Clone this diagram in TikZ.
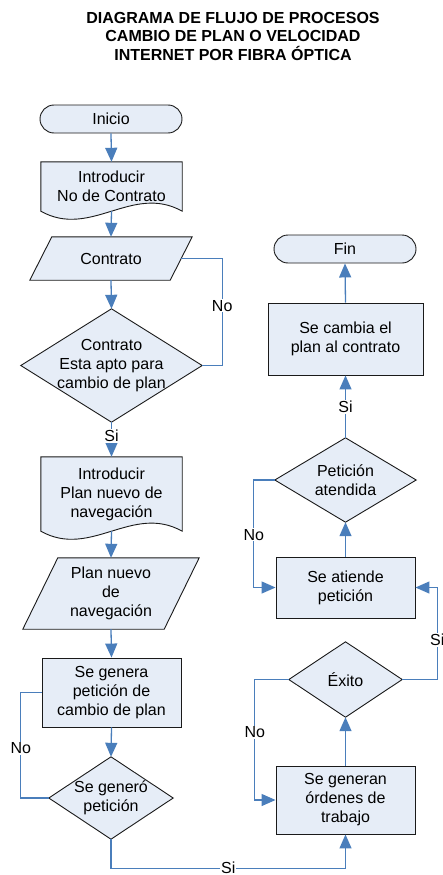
\documentclass[tikz,border=0pt]{standalone}
\usepackage{fontspec}
\setmainfont{Liberation Sans}
\usetikzlibrary{
    arrows.meta,
    backgrounds
}
\definecolor{shapefill}{HTML}{E6EDF7}
\definecolor{shapeborder}{HTML}{1A1A1A}
\definecolor{flowblue}{HTML}{4A7EBB}
\newcommand{\flowfont}{\fontsize{16}{19}\selectfont}
\tikzset{
    terminal/.style={
        rectangle, draw=shapeborder, fill=shapefill, line width=0.9pt,
        rounded corners=14pt, minimum width=142pt, minimum height=28pt,
        inner sep=0pt, font=\flowfont
    },
    process/.style={
        rectangle, draw=shapeborder, fill=shapefill, line width=0.9pt,
        minimum width=139pt, inner sep=0pt, align=center,
        font=\flowfont
    },
    shape area/.style={
        rectangle, inner sep=0pt, align=center, font=\flowfont
    },
    outline/.style={
        draw=shapeborder, fill=shapefill, line width=0.9pt
    },
    link/.style={
        line width=1.3pt, color=flowblue
    },
    flow/.style={
        link, -{Triangle[length=14pt, width=12pt]}
    },
    flow label/.style={
        fill=white, inner sep=1pt, text=black, font=\flowfont
    },
}

\begin{document}
\begin{tikzpicture}[x=1pt, y=-1pt]
    \useasboundingbox (0,0) rectangle (442,875);

    \node[align=center, font=\fontsize{16}{18.5}\selectfont\bfseries] (title) at (233,36) {
        DIAGRAMA DE FLUJO DE PROCESOS\\
        CAMBIO DE PLAN O VELOCIDAD\\
        INTERNET POR FIBRA ÓPTICA
    };

    % left column
    \node[terminal] (inicio) at (111,119) {Inicio};
    \node[shape area, minimum width=141pt, minimum height=49pt] (doc1) at (111.5,186.5) {Introducir\\No de Contrato};
    \node[shape area, minimum width=162pt, minimum height=43pt] (pa1) at (111,258.5) {Contrato};
    \node[shape area, minimum width=181pt, minimum height=113pt] (d1) at (111.5,365.5) {Contrato\\Esta apto para\\cambio de plan};
    \node[shape area, minimum width=141pt, minimum height=74pt] (doc2) at (111.5,494) {Introducir\\Plan nuevo de\\navegación};
    \node[shape area, minimum width=176pt, minimum height=71pt] (pa2) at (111,593.5) {Plan nuevo\\de\\navegación};
    \node[process, minimum height=69pt] (genera) at (111.5,692.5) {Se genera\\petición de\\cambio de plan};
    \node[shape area, minimum width=124pt, minimum height=82pt] (d2) at (111,798) {Se generó\\petición};

    % right column
    \node[process, minimum height=68pt] (ordenes) at (345.5,800) {Se generan\\órdenes de\\trabajo};
    \node[shape area, minimum width=113pt, minimum height=75pt] (exito) at (345.5,679.5) {Éxito};
    \node[process, minimum height=61pt] (atiende) at (345.5,587.5) {Se atiende\\petición};
    \node[shape area, minimum width=141pt, minimum height=84pt] (d3) at (345.5,480) {Petición\\atendida};
    \node[process, minimum width=155pt, minimum height=72pt] (cambia) at (345.5,339) {Se cambia el\\plan al contrato};
    \node[terminal] (fin) at (345,249) {Fin};

    % outlines behind the texts
    \begin{scope}[on background layer]
        \draw[outline] (doc1.south west) -- (doc1.north west) -- (doc1.north east) -- (doc1.south east)
            .. controls +(-50,-28) and +(50,28) .. (doc1.south west) -- cycle;
        \draw[outline] (doc2.south west) -- (doc2.north west) -- (doc2.north east) -- (doc2.south east)
            .. controls +(-50,-28) and +(50,28) .. (doc2.south west) -- cycle;
        \draw[outline] ([xshift=22pt]pa1.north west) -- (pa1.north east) -- ([xshift=-22pt]pa1.south east) -- (pa1.south west) -- cycle;
        \draw[outline] ([xshift=35pt]pa2.north west) -- (pa2.north east) -- ([xshift=-35pt]pa2.south east) -- (pa2.south west) -- cycle;
        \draw[outline] (d1.north) -- (d1.east) -- (d1.south) -- (d1.west) -- cycle;
        \draw[outline] (d2.north) -- (d2.east) -- (d2.south) -- (d2.west) -- cycle;
        \draw[outline] (exito.north) -- (exito.east) -- (exito.south) -- (exito.west) -- cycle;
        \draw[outline] (d3.north) -- (d3.east) -- (d3.south) -- (d3.west) -- cycle;
    \end{scope}

    % connectors
    \draw[flow] (inicio.south) -- (doc1.north);
    \draw[flow] (doc1.south) -- (pa1.north);
    \draw[flow] (pa1.south) -- (d1.north);
    \draw[link] ([xshift=-11pt]pa1.east) -- ++(41,0) |- node[flow label, pos=0.22] {No} (d1.east);
    \draw[flow] (d1.south) -- node[flow label, pos=0.4] {Si} (doc2.north);
    \draw[flow] (doc2.south) -- (pa2.north);
    \draw[flow] (pa2.south) -- (genera.north);
    \draw[flow] (genera.south) -- (d2.north);
    \draw[link] (d2.west) -- ++(-28,0) |- node[flow label, pos=0.235] {No} (genera.west);
    \draw[flow] (d2.south) -- ++(0,29) -| node[flow label, pos=0.25] {Si} (ordenes.south);
    \draw[flow] (ordenes.north) -- (exito.south);
    \draw[flow] (exito.west) -- ++(-34,0) |- node[flow label, pos=0.22] {No} (ordenes.west);
    \draw[flow] (exito.east) -- ++(35,0) |- node[flow label, pos=0.215] {Si} (atiende.east);
    \draw[flow] (atiende.north) -- (d3.south);
    \draw[flow] (d3.west) -- ++(-21,0) |- node[flow label, pos=0.255] {No} (atiende.west);
    \draw[flow] (d3.north) -- node[flow label] {Si} (cambia.south);
    \draw[flow] (cambia.north) -- (fin.south);
\end{tikzpicture}
\end{document}
